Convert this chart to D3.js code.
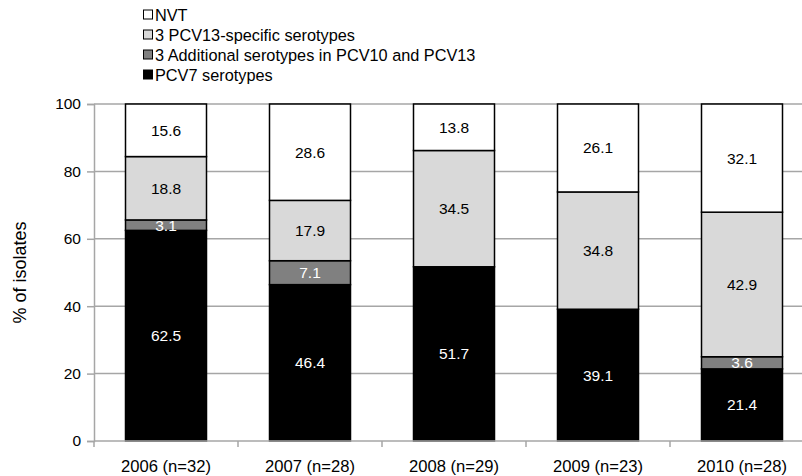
<!DOCTYPE html>
<html>
<head>
<meta charset="utf-8">
<script src="https://cdn.jsdelivr.net/npm/d3@7"></script>
<style>
  body { margin: 0; background: #fff; }
  text { font-family: "Liberation Sans", Arial, sans-serif; }
</style>
</head>
<body>
<div id="chart"></div>
<script>
// Serotype distribution by year, stacked to 100%
const years = ['2006 (n=32)', '2007 (n=28)', '2008 (n=29)', '2009 (n=23)', '2010 (n=28)'];
const seriesNames = ['PCV7 serotypes', '3 Additional serotypes in PCV10 and PCV13', '3 PCV13-specific serotypes', 'NVT'];
const pcv7 = [62.5, 46.4, 51.7, 39.1, 21.4];
const additional = [3.1, 7.1, 0, 0, 3.6];
const pcv13 = [18.8, 17.9, 34.5, 34.8, 42.9];
const nvt = [15.6, 28.6, 13.8, 26.1, 32.1];
const yTicks = [0, 20, 40, 60, 80, 100];

const width = 802, height = 476;
const fills = ['#000000', '#808080', '#d9d9d9', '#ffffff'];
const labelColors = ['#fff', '#fff', '#000', '#000'];

const svg = d3.select('#chart').append('svg')
  .attr('width', width).attr('height', height)
  .attr('viewBox', `0 0 ${width} ${height}`);

const x = d3.scaleBand().domain(years).range([94, 814]).paddingInner(0.4375).paddingOuter(0.21875);
const y = d3.scaleLinear().domain([0, 100]).range([441, 104]);

// gridlines
svg.append('g').selectAll('line').data(yTicks.filter((d) => d > 0)).join('line')
  .attr('x1', 94).attr('x2', width).attr('y1', (d) => y(d)).attr('y2', (d) => y(d))
  .attr('stroke', '#a6a6a6').attr('stroke-width', 1.5);

// y axis
const yAxis = svg.append('g').attr('transform', 'translate(94,0)')
  .call(d3.axisLeft(y).tickValues(yTicks).tickSize(7).tickPadding(6));
yAxis.select('.domain').attr('stroke', '#a6a6a6').attr('stroke-width', 1.5);
yAxis.selectAll('.tick line').attr('stroke', '#a6a6a6').attr('stroke-width', 1.5);
yAxis.selectAll('.tick text').attr('font-size', 15.5).attr('fill', '#000')
  .style('font-family', '"Liberation Sans", Arial, sans-serif');

// stack
const table = years.map((yr, i) => ({ year: yr, s0: pcv7[i], s1: additional[i], s2: pcv13[i], s3: nvt[i] }));
const stacked = d3.stack().keys(['s0', 's1', 's2', 's3'])(table);

const layers = svg.append('g').selectAll('g').data(stacked).join('g')
  .attr('fill', (d, i) => fills[i]);

layers.selectAll('rect').data((d) => d.filter((p) => p[1] - p[0] > 0)).join('rect')
  .attr('x', (d) => x(d.data.year))
  .attr('width', x.bandwidth())
  .attr('y', (d) => y(d[1]))
  .attr('height', (d) => y(d[0]) - y(d[1]))
  .attr('stroke', '#000').attr('stroke-width', 1.5);

// value labels
stacked.forEach((layer, i) => {
  svg.append('g').selectAll('text').data(layer.filter((p) => p[1] - p[0] > 0)).join('text')
    .attr('x', (d) => x(d.data.year) + x.bandwidth() / 2)
    .attr('y', (d) => y((d[0] + d[1]) / 2))
    .attr('dy', '0.35em')
    .attr('text-anchor', 'middle')
    .attr('font-size', 15.5)
    .attr('fill', labelColors[i])
    .text((d) => (d[1] - d[0]).toFixed(1));
});

// x axis
const xAxis = svg.append('g').attr('transform', 'translate(0,441)');
xAxis.append('line').attr('x1', 94).attr('x2', width).attr('stroke', '#a6a6a6').attr('stroke-width', 1.5);
xAxis.selectAll('line.tk').data(years).join('line').attr('class', 'tk')
  .attr('x1', (d) => x(d) - x.step() * x.paddingInner() / 2)
  .attr('x2', (d) => x(d) - x.step() * x.paddingInner() / 2)
  .attr('y1', 0).attr('y2', 6)
  .attr('stroke', '#a6a6a6').attr('stroke-width', 1.5);
xAxis.selectAll('text').data(years).join('text')
  .attr('x', (d) => x(d) + x.bandwidth() / 2)
  .attr('y', 25)
  .attr('dy', '0.35em')
  .attr('text-anchor', 'middle')
  .attr('font-size', 16.6)
  .text((d) => d);

// y title
svg.append('text')
  .attr('transform', `translate(20,${(y(0) + y(100)) / 2}) rotate(-90)`)
  .attr('text-anchor', 'middle').attr('dy', '0.35em')
  .attr('font-size', 18)
  .text('% of isolates');

// legend (top to bottom: NVT first)
const legendOrder = [3, 2, 1, 0];
const legend = svg.append('g').selectAll('g').data(legendOrder).join('g')
  .attr('transform', (d, i) => `translate(143,${15 + i * 20})`);
legend.append('rect').attr('x', 0.5).attr('y', -5).attr('width', 9).attr('height', 9)
  .attr('fill', (d) => fills[d]).attr('stroke', '#000').attr('stroke-width', 1);
legend.append('text').attr('x', 12).attr('dy', '0.35em').attr('font-size', 16.3)
  .text((d) => seriesNames[d]);
</script>
</body>
</html>
